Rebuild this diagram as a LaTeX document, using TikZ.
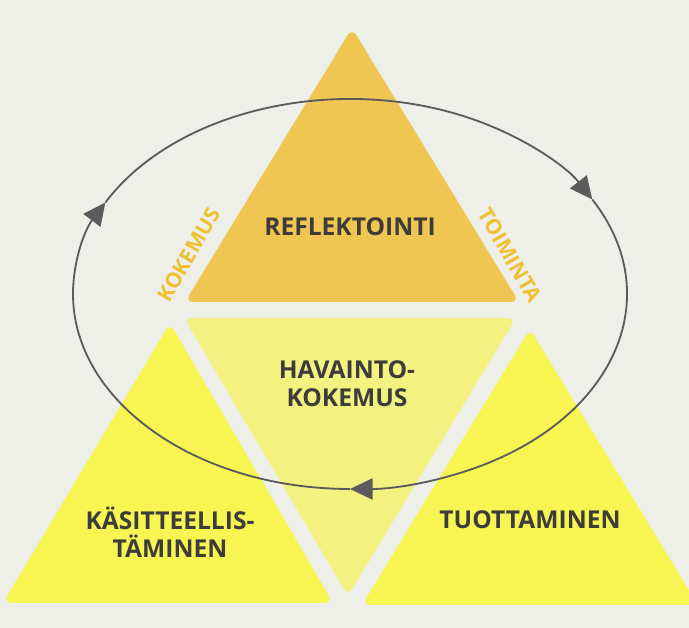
\documentclass[tikz,border=0pt]{standalone}
\usepackage{fontspec}
\setmainfont{Open Sans}
\usetikzlibrary{arrows.meta}
\definecolor{paper}{RGB}{238,239,232}
\definecolor{gold}{RGB}{239,198,82}
\definecolor{palelemon}{RGB}{243,242,128}
\definecolor{lemon}{RGB}{246,245,82}
\definecolor{ink}{RGB}{62,60,58}
\definecolor{amber}{RGB}{240,192,50}
\definecolor{loopgrey}{RGB}{92,90,92}
\begin{document}
\begin{tikzpicture}[x=0.025cm,y=0.025cm,>={Triangle[length=16pt,width=15pt]},
  tri/.style={rounded corners=6pt},
  lbl/.style={font=\bfseries\fontsize{17.5}{20}\selectfont,text=ink,align=center,inner sep=0pt},
  sidelbl/.style={font=\bfseries\fontsize{15}{17}\selectfont,text=amber,inner sep=0pt},
  loop/.style={draw=loopgrey,line width=1.3pt}]
\fill[paper] (0,0) rectangle (689,628);
\useasboundingbox (0,0) rectangle (689,628);
\fill[gold,tri] (185,326) -- (519,326) -- (352,600) -- cycle;
\fill[palelemon,tri] (184,310) -- (516,310) -- (348,32) -- cycle;
\fill[lemon,tri] (3,25) -- (333,25) -- (170,305) -- cycle;
\fill[lemon,tri] (362,23) -- (698,23) -- (530,299) -- cycle;
\node[lbl] (refl) at (350,401) {REFLEKTOINTI};
\node[lbl] (hav) at (347,244) {HAVAINTO-\\KOKEMUS};
\node[lbl] (kas) at (170,96) {KÄSITTEELLIS-\\TÄMINEN};
\node[lbl] (tuo) at (530,108) {TUOTTAMINEN};
\node[sidelbl,rotate=60] (kok) at (189,373) {KOKEMUS};
\node[sidelbl,rotate=-60] (toi) at (510,373) {TOIMINTA};
% kierros
\coordinate (mid) at (350,334);
\path (mid) ++(152:277 and 195) coordinate (arrL);
\path (mid) ++(29:277 and 195) coordinate (arrR);
\path (mid) ++(270:277 and 195) coordinate (arrB);
\draw[loop,->] (arrL) arc[start angle=152,end angle=29,x radius=277,y radius=195];
\draw[loop,->] (arrR) arc[start angle=29,end angle=-90,x radius=277,y radius=195];
\draw[loop,->] (arrB) arc[start angle=270,end angle=152,x radius=277,y radius=195];
\end{tikzpicture}
\end{document}
